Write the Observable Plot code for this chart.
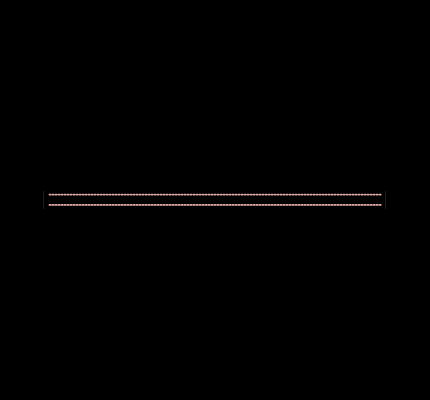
<!DOCTYPE html>
<html>
<head>
<meta charset="utf-8">
<script src="https://cdn.jsdelivr.net/npm/d3@7"></script>
<script src="https://cdn.jsdelivr.net/npm/@observablehq/plot@0.6"></script>
<style>
  html, body { margin: 0; padding: 0; background: #000; }
  #chart { width: 430px; height: 400px; background: #000; }
</style>
</head>
<body>
<div id="chart"></div>
<script>
const xs = [0, 1, 2, 3, 4, 5, 6, 7, 8, 9, 10];
const upperValues = [0.82, 0.82, 0.82, 0.82, 0.82, 0.82, 0.82, 0.82, 0.82, 0.82, 0.82];
const lowerValues = [0.21, 0.21, 0.21, 0.21, 0.21, 0.21, 0.21, 0.21, 0.21, 0.21, 0.21];

const data = [
  ...xs.map((x, i) => ({x, y: upperValues[i], series: "upper"})),
  ...xs.map((x, i) => ({x, y: lowerValues[i], series: "lower"}))
];

const chart = Plot.plot({
  width: 430,
  height: 400,
  marginLeft: 43,
  marginRight: 45,
  marginTop: 191,
  marginBottom: 192,
  style: {background: "#000", color: "#000"},
  x: {domain: [0, 10], axis: null, insetLeft: 6, insetRight: 4},
  y: {domain: [0, 1], axis: null},
  marks: [
    Plot.frame({anchor: "left", stroke: "#1c1c1c"}),
    Plot.frame({anchor: "right", stroke: "#1c1c1c"}),
    Plot.line(data, {
      x: "x", y: "y", z: "series",
      stroke: "#e2aaa6", strokeWidth: 1.8,
      strokeDasharray: "1.2,1.8"
    })
  ]
});
document.getElementById("chart").appendChild(chart);
</script>
</body>
</html>
